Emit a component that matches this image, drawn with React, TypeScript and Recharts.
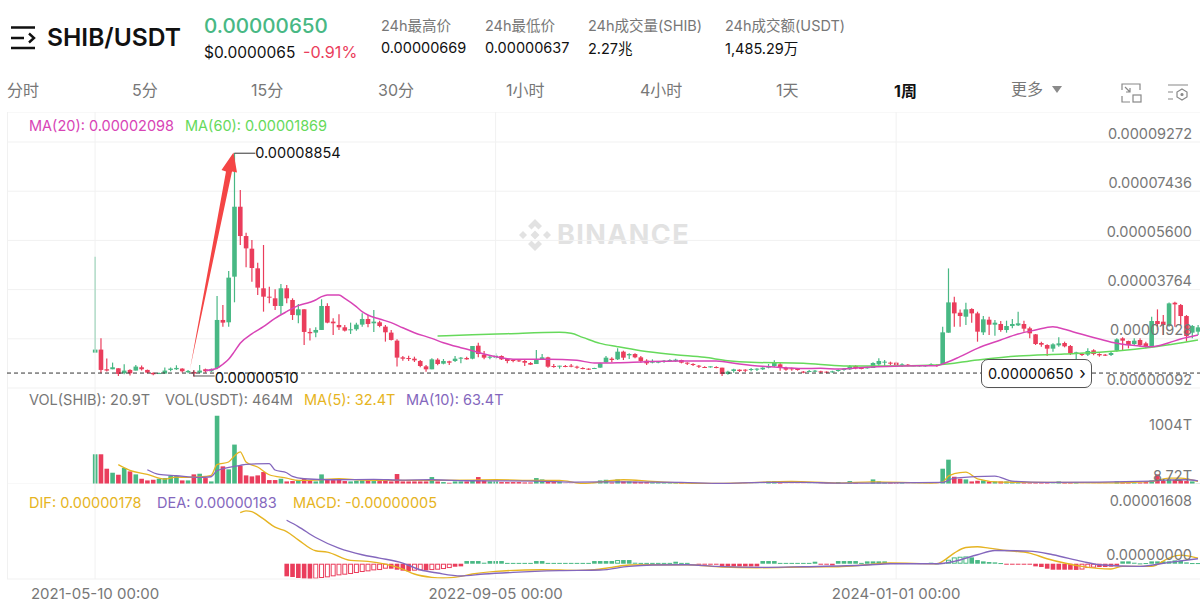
import { Bar, ComposedChart, Line, ReferenceDot, ReferenceLine, XAxis, YAxis, CartesianGrid } from "recharts"

// prices are in units of 0.00000001 USDT, one candle per week
const highs = [
  4993,1947,1189,1040,828,978,791,953,928,779,
  680,670,853,853,940,828,766,766,953,816,
  816,3526,3190,4458,8854,7479,5887,5614,4769,5428,
  3874,3775,3973,3936,3439,3228,3029,2320,2358,3402,
  3252,2693,2842,2444,2531,2531,2879,2817,3004,2606,
  2444,2258,1909,1286,1298,1261,1137,950,1199,1199,
  1174,1112,1286,1249,1261,1659,1783,1472,1323,1385,
  1311,1199,1174,1174,1137,1062,1510,1361,1261,987,
  925,950,988,925,863,826,850,1037,1286,1236,
  1572,1485,1385,1385,1286,1162,1162,1100,1137,1162,
  1186,1149,1050,1012,950,900,900,900,851,739,
  814,789,789,838,826,863,988,1124,1037,888,
  851,826,727,764,764,739,714,739,789,839,
  950,938,875,888,1050,1199,1137,1075,1075,1013,
  988,950,950,950,1013,975,2380,4555,3499,3026,
  3275,3064,2939,2778,2753,2629,2591,2604,2666,2939,
  2604,2380,2107,1821,1721,1759,1982,1821,1696,1448,
  1386,1572,1535,1386,1361,1448,1945,1982,1858,1945,
  1945,1821,2753,3026,2815,3287,3312,3226,2815,2442,2442,
]
const lows = [
  1413,642,704,791,543,605,555,742,742,642,
  568,620,630,717,766,667,642,510,642,667,
  692,791,2382,2382,3290,5428,4595,4060,3563,2941,
  3252,3004,2842,3252,2631,2507,1698,1860,1984,2258,
  2507,2071,2258,2196,2109,2233,2382,2357,2184,2357,
  1823,1860,891,1112,1100,1062,863,702,789,938,
  975,950,1062,1012,1149,1162,1236,1162,1162,1162,
  1137,1012,1050,1062,913,950,987,1162,851,851,
  813,863,863,813,789,764,800,851,1037,1050,
  1137,1137,1174,1199,1037,950,1012,1012,1037,1062,
  1062,1012,950,913,838,838,851,826,540,590,
  665,690,690,714,727,764,826,863,739,739,
  739,739,640,677,677,640,640,665,702,739,
  764,789,789,814,839,925,913,950,889,876,
  900,900,888,888,913,889,988,2156,2380,2380,
  2442,2529,1821,2069,2069,2044,2194,2156,2318,2405,
  2194,1945,1696,1634,1286,1448,1634,1610,1324,1162,
  1286,1286,1311,1262,1286,1286,1448,1510,1572,1696,
  1634,1572,1610,2256,2069,2380,2380,2442,1821,1945,2069,
]
const opens = [
  1413,1525,791,791,828,642,766,742,866,766,
  654,630,630,766,791,816,680,692,667,791,
  717,841,2631,2544,4247,6857,5763,5291,4558,3812,
  3500,3439,3153,3812,3377,2805,3029,2184,2159,2258,
  3153,2569,2444,2357,2245,2283,2457,2668,2507,2544,
  2382,2159,1860,1236,1211,1186,1100,900,789,1149,
  1000,1087,1100,1186,1211,1186,1671,1336,1224,1224,
  1286,1174,1137,1124,1100,1025,987,1162,1236,913,
  888,913,925,888,838,814,810,851,1050,1186,
  1162,1448,1311,1360,1236,1112,1037,1050,1075,1100,
  1100,1137,1037,988,925,876,876,876,851,614,
  727,776,776,776,789,789,851,913,975,838,
  826,801,702,690,700,714,702,690,727,764,
  789,913,851,826,839,975,1038,1038,1038,925,
  963,913,913,913,913,950,988,2156,3287,2902,
  2753,3039,2877,2169,2641,2455,2480,2256,2405,2430,
  2480,2318,2094,1771,1696,1560,1684,1771,1659,1361,
  1361,1336,1498,1361,1336,1324,1485,1945,1846,1734,
  1883,1759,1659,2591,2567,2405,3275,3188,2778,2156,2194,
]
const closes = [
  1525,766,742,866,617,742,642,891,791,667,
  605,650,742,816,841,717,729,630,742,717,
  791,2631,2531,4210,6857,5763,5303,4570,3837,3500,
  3463,3153,3812,3439,2817,3029,2184,2134,2258,3153,
  2531,2507,2357,2233,2283,2457,2668,2482,2569,2407,
  2171,1885,1226,1186,1174,1124,913,789,1162,988,
  1100,1037,1186,1224,1162,1659,1361,1224,1261,1298,
  1162,1100,1100,1100,1037,963,1137,1236,888,876,
  925,888,888,851,814,789,838,1012,1224,1137,
  1448,1224,1360,1236,1100,1012,1100,1075,1112,1137,
  1149,1037,1000,950,900,863,900,838,614,702,
  789,727,752,801,814,851,913,1050,851,776,
  789,764,665,727,739,677,665,714,764,814,
  900,826,801,863,1025,1100,1075,1000,950,975,
  938,938,938,938,975,913,2169,3287,2877,2778,
  3026,2877,2194,2654,2455,2529,2256,2405,2480,2505,
  2306,2132,1734,1709,1560,1721,1759,1647,1386,1423,
  1324,1473,1361,1311,1311,1398,1908,1858,1696,1858,
  1696,1634,2591,2480,2442,3250,3213,2778,2032,2405,2355,
]
// volume in T
const volumes = [
  600,600,313,233,193,327,260,200,113,80,
  93,113,127,167,167,80,80,200,213,127,
  60,1367,360,300,793,367,180,160,180,247,
  87,87,113,60,67,87,113,80,60,200,
  100,87,100,67,60,73,80,80,67,67,
  93,60,207,60,60,60,60,60,147,60,
  47,33,60,60,60,80,147,80,60,60,
  47,47,47,47,40,40,127,100,60,47,
  53,14,14,14,14,14,14,80,93,40,
  100,60,60,53,47,47,40,40,40,40,
  40,40,14,14,14,14,14,14,14,14,
  14,14,14,14,14,14,60,67,53,14,
  14,14,14,14,14,14,14,14,47,14,
  67,40,14,14,100,60,47,47,47,47,
  14,14,14,14,14,14,313,493,153,113,
  100,60,73,80,60,60,60,60,60,53,
  47,47,33,33,47,20,60,47,40,47,
  14,14,14,14,14,14,60,47,40,40,
  40,47,80,200,73,100,93,80,67,60,14,
]
// macd histogram starts at candle 33
const macdStart = 33
const macdHist = [
  -377,-397,-427,-447,-457,-447,-427,
  -407,-377,-348,-328,-308,-278,-248,-228,-199,-189,
  -149,-149,-179,-208,-228,-208,-199,-199,-190,-179,
  -159,-130,-90,-79,80,80,80,30,80,80,
  80,25,25,25,25,25,80,80,25,25,
  25,25,25,25,25,25,80,80,80,80,
  110,110,110,30,25,25,25,25,25,25,
  60,25,25,0,-20,-20,-20,-30,-80,-80,
  -80,-80,-80,-80,-80,80,80,80,25,25,
  25,25,25,25,60,-25,-25,-50,80,80,
  80,80,25,70,70,70,70,20,20,20,
  20,20,20,20,30,10,20,119,189,209,
  218,189,110,70,50,40,20,-20,-20,-20,
  -20,-20,-79,-99,-149,-179,-179,-179,-179,-185,
  -175,-130,-119,-99,-99,-89,-79,70,70,30,
  10,20,70,70,70,70,99,90,40,20,20,
]

const ma20Idx = [19,21,22,23,24,25,27,29,31,33,35,37,38,39,40,42,43,45,46,47,49,51,53,55,58,60,63,65,67,70,72,78,83,86,90,95,101,107,111,115,119,122,125,128,133,139,145,146,149,152,156,159,162,165,166,169,173,176,180,182,185,187,190]
const ma20Val = [741,828,978,1164,1450,1760,2109,2382,2693,2941,3165,3290,3377,3500,3563,3563,3439,3128,2941,2817,2668,2531,2340,2156,1945,1783,1597,1485,1360,1224,1162,1162,1124,1025,1037,1075,1100,1100,987,900,851,820,826,801,864,913,926,988,1261,1572,1883,2107,2256,2380,2343,2156,1920,1758,1659,1634,1783,1920,2069]
const ma60Idx = [59,65,71,80,82,84,87,90,94,100,105,109,113,122,129,136,145,152,159,167,176,182,190]
const ma60Val = [2032,2081,2119,2168,2131,1982,1758,1634,1485,1336,1236,1112,1050,1013,913,913,950,1137,1286,1361,1473,1610,1883]

const volMa5Idx = [4,6,9,12,14,16,19,20,21,23,24,25,26,28,30,33,35,38,42,46,52,58,65,69,76,80,84,91,96,104,110,120,128,134,144,146,147,148,150,152,156,164,176,182,185,187,190]
const volMa5Val = [393,280,200,107,147,140,160,180,393,447,567,647,447,347,193,127,80,87,113,87,80,80,87,93,80,80,20,93,60,20,27,60,27,53,27,47,167,213,247,113,47,40,33,60,127,127,60]
const volMa10Idx = [9,11,14,18,20,21,25,26,30,31,33,34,36,41,48,53,58,65,76,83,91,101,108,115,122,128,146,148,155,158,164,182,184,188,190]
const volMa10Val = [293,200,173,140,153,273,380,400,413,287,233,160,113,93,100,87,93,73,67,47,53,40,20,40,40,27,40,127,167,67,40,67,87,93,73]

const difIdx = [25,26,27,28,29,31,33,35,38,40,44,47,50,53,55,58,60,63,65,69,77,83,86,89,92,96,102,108,114,122,128,133,137,145,146,148,150,152,154,157,161,164,167,170,175,177,182,185,187,190]
const difVal = [1529,1579,1559,1460,1341,1092,963,715,387,348,99,70,-11,-159,-308,-407,-427,-377,-308,-228,-179,-199,-179,-109,-40,-30,-30,-99,-119,-99,-89,-30,20,0,70,318,487,506,467,397,318,149,20,-79,-159,-79,-79,169,258,169]
const deaIdx = [33,35,38,42,46,49,53,56,59,63,67,72,80,87,92,96,102,107,115,122,133,137,145,148,152,155,161,165,170,173,180,185,190]
const deaVal = [1301,1112,784,467,268,169,20,-179,-278,-367,-308,-258,-208,-189,-79,-40,-30,-79,-109,-89,-40,0,0,70,268,397,377,268,70,-30,-79,40,149]

const priceTicks = [92,1928,3764,5600,7436,9272]
const volTicks = [8.72,1004]
const volTickLabels = ["8.72T","1004T"]
const macdTicks = [0,1608]
const dateTicks = [0,69,138]
const dateLabels = ["2021-05-10 00:00","2022-09-05 00:00","2024-01-01 00:00"]

const UP = "#48B884"
const DOWN = "#EA3D5C"
const GOLD = "#E6B422"
const PURPLE = "#8467BD"
const PINK = "#D844B6"
const LIME = "#66D95B"
const GRID = "#F1F1F1"
const AXIS_TEXT = "#777"
const FONT = 'Inter, "Noto Sans CJK SC", sans-serif'

const lookup = (idx: number[], vals: number[]) => {
  const m: Record<number, number> = {}
  idx.forEach((k, n) => { m[k] = vals[n] })
  return m
}
const ma20 = lookup(ma20Idx, ma20Val)
const ma60 = lookup(ma60Idx, ma60Val)
const volMa5 = lookup(volMa5Idx, volMa5Val)
const volMa10 = lookup(volMa10Idx, volMa10Val)
const dif = lookup(difIdx, difVal)
const dea = lookup(deaIdx, deaVal)

const rows = opens.map((o, i) => ({
  i,
  range: [lows[i], highs[i]],
  open: o,
  close: closes[i],
  high: highs[i],
  low: lows[i],
  vol: volumes[i],
  hist: i >= macdStart ? macdHist[i - macdStart] : null,
  prevHist: i > macdStart ? macdHist[i - macdStart - 1] : null,
  ma20: ma20[i] ?? null,
  ma60: ma60[i] ?? null,
  volMa5: volMa5[i] ?? null,
  volMa10: volMa10[i] ?? null,
  dif: dif[i] ?? null,
  dea: dea[i] ?? null,
}))

// bars get barSize 4 so they stay centred; the shapes paint a little wider
const PAD = 0.3

function Candle({ x, y, width, height, payload }: any) {
  const { open, close, high, low } = payload
  const perUnit = height / (high - low)
  const top = y + (high - Math.max(open, close)) * perUnit
  const bodyH = Math.max(Math.abs(open - close) * perUnit, 1)
  const color = close >= open ? UP : DOWN
  const cx = x + width / 2
  return (
    <g>
      <line x1={cx} x2={cx} y1={y} y2={y + height} stroke={color} strokeWidth={1.2} />
      <rect x={x - PAD} y={top} width={width + 2 * PAD} height={bodyH} fill={color} />
    </g>
  )
}

function VolBar({ x, y, width, height, payload }: any) {
  return <rect x={x - PAD} y={y} width={width + 2 * PAD} height={height} fill={payload.close >= payload.open ? UP : DOWN} />
}

function HistBar({ x, y, width, height, payload }: any) {
  if (payload.hist === null || payload.hist === 0) return null
  const color = payload.hist > 0 ? UP : DOWN
  const top = Math.min(y, y + height)
  const h = Math.abs(height)
  const hollow = payload.prevHist !== null && payload.hist > payload.prevHist && h > 3.5
  if (hollow) return <rect x={x} y={top + 0.5} width={width} height={h - 1} fill="#fff" stroke={color} strokeWidth={1} />
  return <rect x={x - PAD} y={top} width={width + 2 * PAD} height={Math.max(h, 1)} fill={color} />
}

const axisLabel = (text: string, y: number) => (
  <text x={1185} y={y - 8.5} dy={5} textAnchor="end" fontSize={14.5} fontFamily={FONT} fill={AXIS_TEXT}>{text}</text>
)
const PriceTick = ({ y, payload }: any) => axisLabel((payload.value / 1e8).toFixed(8), y)
const VolTick = ({ y, payload }: any) => axisLabel(volTickLabels[volTicks.indexOf(payload.value)], y)

const XDOMAIN = [-15.172, 190.517]
// the mirrored y axis needs one pixel of width to draw
const WIDTH = 1194

const gridLines = dateTicks.map((t) => <ReferenceLine key={t} x={t} stroke={GRID} />)

function PriceChart() {
  return (
    <ComposedChart width={WIDTH} height={276} data={rows} margin={{ top: 0, right: 0, bottom: 0, left: 0 }}>
      <CartesianGrid vertical={false} stroke={GRID} />
      <XAxis dataKey="i" type="number" domain={XDOMAIN} ticks={dateTicks} hide />
      <YAxis orientation="right" mirror width={1} domain={[92, 10392]} ticks={priceTicks} interval={0} tick={PriceTick} tickLine={false} axisLine={false} />
      {gridLines}
      <Bar dataKey="range" barSize={4} shape={Candle} isAnimationActive={false} />
      <Line dataKey="ma60" type="monotone" stroke={LIME} strokeWidth={1.5} dot={false} connectNulls isAnimationActive={false} />
      <Line dataKey="ma20" type="monotone" stroke={PINK} strokeWidth={1.5} dot={false} connectNulls isAnimationActive={false} />
      <ReferenceLine y={650} stroke="#333" strokeDasharray="4 3" />
      <ReferenceLine segment={[{ x: 24, y: 8854 }, { x: 27.6, y: 8854 }]} stroke="#333" />
      <ReferenceDot x={27.6} y={8854} r={0} stroke="none" fill="none"
        label={{ value: "0.00008854", position: "right", offset: 0, fontSize: 14.5, fill: "#111", fontFamily: FONT }} />
      <ReferenceLine segment={[{ x: 17, y: 740 }, { x: 17, y: 540 }]} stroke="#555" />
      <ReferenceLine segment={[{ x: 17, y: 540 }, { x: 20.6, y: 540 }]} stroke="#555" />
      <ReferenceDot x={20.6} y={480} r={0} stroke="none" fill="none"
        label={{ value: "0.00000510", position: "right", offset: 0, fontSize: 14.8, fill: "#111", fontFamily: FONT }} />
    </ComposedChart>
  )
}

function VolumeChart() {
  return (
    <ComposedChart width={WIDTH} height={96} data={rows} margin={{ top: 0, right: 0, bottom: 0, left: 0 }}>
      <XAxis dataKey="i" type="number" domain={XDOMAIN} ticks={dateTicks} hide />
      <YAxis orientation="right" mirror width={1} domain={[8.72, 1919]} ticks={volTicks} interval={0} tick={VolTick} tickLine={false} axisLine={false} />
      {gridLines}
      <ReferenceLine y={8.72} stroke={GRID} />
      <ReferenceLine y={1919} stroke={GRID} />
      <Bar dataKey="vol" barSize={4} shape={VolBar} isAnimationActive={false} />
      <Line dataKey="volMa5" type="monotone" stroke={GOLD} strokeWidth={1.3} dot={false} connectNulls isAnimationActive={false} />
      <Line dataKey="volMa10" type="monotone" stroke={PURPLE} strokeWidth={1.3} dot={false} connectNulls isAnimationActive={false} />
    </ComposedChart>
  )
}

function MacdChart() {
  return (
    <ComposedChart width={WIDTH} height={121} data={rows} margin={{ top: 0, right: 0, bottom: 0, left: 0 }}>
      <XAxis dataKey="i" type="number" domain={XDOMAIN} ticks={dateTicks} interval={0} height={26}
        tickFormatter={(t) => dateLabels[dateTicks.indexOf(t)]} tick={{ fontSize: 15, fill: AXIS_TEXT, fontFamily: FONT }}
        tickLine={false} axisLine={{ stroke: GRID }} tickMargin={3} />
      <YAxis orientation="right" mirror width={1} domain={[-447, 2384]} ticks={macdTicks} interval={0} tick={PriceTick} tickLine={false} axisLine={false} />
      {gridLines}
      <Bar dataKey="hist" barSize={4} shape={HistBar} isAnimationActive={false} />
      <Line dataKey="dif" type="monotone" stroke={GOLD} strokeWidth={1.4} dot={false} connectNulls isAnimationActive={false} />
      <Line dataKey="dea" type="monotone" stroke={PURPLE} strokeWidth={1.4} dot={false} connectNulls isAnimationActive={false} />
    </ComposedChart>
  )
}

const txt = (x: number, y: number, s: string, color: string, size = 15, weight = 400) => (
  <span style={{ position: "absolute", left: x, top: y, transform: "translateY(-50%)", color, fontSize: size, fontWeight: weight, whiteSpace: "nowrap" }}>{s}</span>
)

const stats = [
  ["24h最高价", "0.00000669", 381],
  ["24h最低价", "0.00000637", 485],
  ["24h成交量(SHIB)", "2.27兆", 588],
  ["24h成交额(USDT)", "1,485.29万", 725],
] as const
const tabs = [["分时", 7], ["5分", 132], ["15分", 251], ["30分", 378], ["1小时", 506], ["4小时", 640], ["1天", 776]] as const

function Header() {
  return (
    <>
      <svg style={{ position: "absolute", left: 0, top: 0 }} width={60} height={60} fill="none" stroke="#111" strokeWidth={2.4}>
        <path d="M11 27.5H35M11 38H24M11 48H35M29 33.5L34 38L29 42.5" />
      </svg>
      {txt(47, 37, "SHIB/USDT", "#111", 24.6, 600)}
      {txt(204, 25, "0.00000650", UP, 20.6, 500)}
      {txt(204, 52, "$0.0000065", "#111", 15.5)}
      {txt(303, 52, "-0.91%", DOWN, 16.2)}
      {stats.map(([label, value, x]) => (
        <span key={label}>
          {txt(x, 24, label, "#777", 14.5)}
          {txt(x, 47, value, "#111", 14.5)}
        </span>
      ))}
      {tabs.map(([t, x]) => <span key={t}>{txt(x, 89, t, "#777", 16)}</span>)}
      {txt(894, 90, "1周", "#111", 16, 700)}
      {txt(1011, 88, "更多", "#777", 16)}
      <svg style={{ position: "absolute", left: 1050, top: 85 }} width={14} height={10} fill="#8a8a8a"><path d="M2 1H12L7 8Z" /></svg>
      <svg style={{ position: "absolute", left: 1120, top: 82 }} width={70} height={22} fill="none" stroke="#888" strokeWidth={1.2}>
        <path d="M2 8V2H20V8M2 14V20H10M5 5L10 10M10 6V10H6" />
        <rect x={13} y={13} width={8} height={7} />
        <path d="M48 3H68M48 10H53M48 17H53" />
        <path d="M62 7L67 10V15L62 18L57 15V10Z" />
        <circle cx={62} cy={12.5} r={1} fill="#888" />
      </svg>
    </>
  )
}

function Watermark() {
  return (
    <div style={{ position: "absolute", left: 518, top: 218, color: "#E2E2E2", fontSize: 27, fontWeight: 700, letterSpacing: 1.4, lineHeight: "34px" }}>
      <svg width={34} height={34} style={{ verticalAlign: "top", marginRight: 5 }} fill="#E2E2E2">
        <path d="M17 1L24 8L20.5 11.5L17 8L13.5 11.5L10 8Z" />
        <path d="M17 33L24 26L20.5 22.5L17 26L13.5 22.5L10 26Z" />
        <path d="M1 17L5 13L9 17L5 21Z" />
        <path d="M33 17L29 13L25 17L29 21Z" />
        <path d="M17 12.5L21.5 17L17 21.5L12.5 17Z" />
      </svg>
      BINANCE
    </div>
  )
}

const ARROW = "190,369 226,171.5 221.5,170 233.5,152.5 237,172.5 232,171.5"

export default function App() {
  return (
    <div style={{ position: "absolute", left: 0, top: 0, width: 1200, height: 614, background: "#fff", overflow: "hidden", fontFamily: FONT }}>
      <Header />
      <div style={{ position: "absolute", left: 7, top: 112, width: 1, height: 467, background: GRID }} />
      <Watermark />
      <div style={{ position: "absolute", left: 7, top: 112 }}><PriceChart /></div>
      <div style={{ position: "absolute", left: 7, top: 388 }}><VolumeChart /></div>
      <div style={{ position: "absolute", left: 7, top: 484 }}><MacdChart /></div>
      <svg style={{ position: "absolute", left: 0, top: 0 }} width={1200} height={614}>
        <polygon points={ARROW} fill="#F44545" />
      </svg>
      {txt(29, 125, "MA(20): 0.00002098", PINK, 14.5)}
      {txt(185, 125, "MA(60): 0.00001869", LIME, 14.5)}
      {txt(29, 399, "VOL(SHIB): 20.9T", AXIS_TEXT, 14.5)}
      {txt(165, 399, "VOL(USDT): 464M", AXIS_TEXT, 14.5)}
      {txt(304, 399, "MA(5): 32.4T", GOLD, 14.5)}
      {txt(406, 399, "MA(10): 63.4T", PURPLE, 14.5)}
      {txt(29, 502, "DIF: 0.00000178", GOLD, 14.5)}
      {txt(157, 502, "DEA: 0.00000183", PURPLE, 14.5)}
      {txt(293, 502, "MACD: -0.00000005", GOLD, 14.5)}
      <div style={{ position: "absolute", left: 981, top: 359, width: 103, height: 27, background: "#fff", border: "1px solid #555", borderRadius: 7, fontSize: 14.5, lineHeight: "27px", color: "#111", paddingLeft: 6 }}>
        0.00000650<span style={{ marginLeft: 6, fontSize: 17 }}>›</span>
      </div>
    </div>
  )
}
